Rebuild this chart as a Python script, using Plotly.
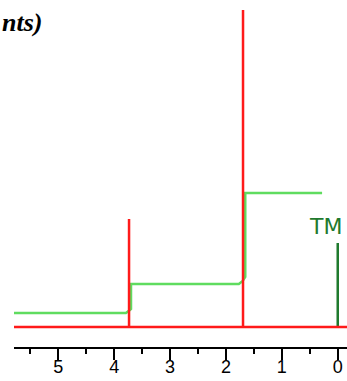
import plotly.graph_objects as go

# Chemical shifts (ppm) of the peaks
peak_shifts = [3.735, 1.695]
peak_heights = [108, 317]
tms_shift = 0.0
tms_height = 84

# Integration trace (ppm, height)
integ_x = [5.794, 3.79, 3.72, 3.70, 3.70, 1.77, 1.70, 1.655, 1.655, 0.28]
integ_y = [14, 14, 17, 18, 43, 43, 46, 50, 134, 134]

x_left, x_right = 5.794, -0.166

tick_vals = [0, 1, 2, 3, 4, 5]
tick_text = ["0", "1", "2", "3", "4", "5"]

# Red spectrum line built from peaks
red_x = [x_left]
red_y = [0]
for s, h in zip(peak_shifts, peak_heights):
    red_x += [s, s, s]
    red_y += [0, h, 0]
red_x.append(x_right)
red_y.append(0)

fig = go.Figure()
fig.add_trace(go.Scatter(x=integ_x, y=integ_y, mode="lines",
                         line=dict(color="#5fdc5f", width=2.5), hoverinfo="skip"))
fig.add_trace(go.Scatter(x=[tms_shift, tms_shift], y=[0, tms_height], mode="lines",
                         line=dict(color="#1f7a2e", width=2.5), hoverinfo="skip"))
fig.add_trace(go.Scatter(x=red_x, y=red_y, mode="lines",
                         line=dict(color="#ff1a1a", width=2.5), hoverinfo="skip"))

fig.add_annotation(xref="x", yref="y", x=0.227, y=101,
                   text="TM", showarrow=False, xanchor="center", yanchor="middle",
                   font=dict(family="DejaVu Sans", size=22, color="#1f7a2e"))
fig.add_annotation(xref="paper", yref="paper", x=-13 / 333, y=1 - 22 / 347,
                   text="<b><i>nts)</i></b>", showarrow=False, xanchor="left",
                   yanchor="middle", borderpad=0,
                   font=dict(family="Liberation Serif", size=26, color="black"))

fig.update_layout(
    width=347, height=381,
    margin=dict(l=14, r=0, t=0, b=34, autoexpand=False),
    paper_bgcolor="white", plot_bgcolor="white",
    showlegend=False,
    xaxis=dict(range=[x_left, x_right], showgrid=False, zeroline=False,
               automargin=False,
               showline=True, linecolor="black", linewidth=2,
               ticks="outside", ticklen=11, tickwidth=2, tickcolor="black",
               ticklabelstandoff=-9,
               tickvals=tick_vals, ticktext=tick_text,
               minor=dict(dtick=0.5, ticks="outside", ticklen=5, tickwidth=2,
                          tickcolor="black", showgrid=False),
               tickfont=dict(family="Liberation Sans", size=18, color="black")),
    yaxis=dict(range=[-20, 327], visible=False, showgrid=False, zeroline=False,
               automargin=False),
)

fig.write_html("out.html")
